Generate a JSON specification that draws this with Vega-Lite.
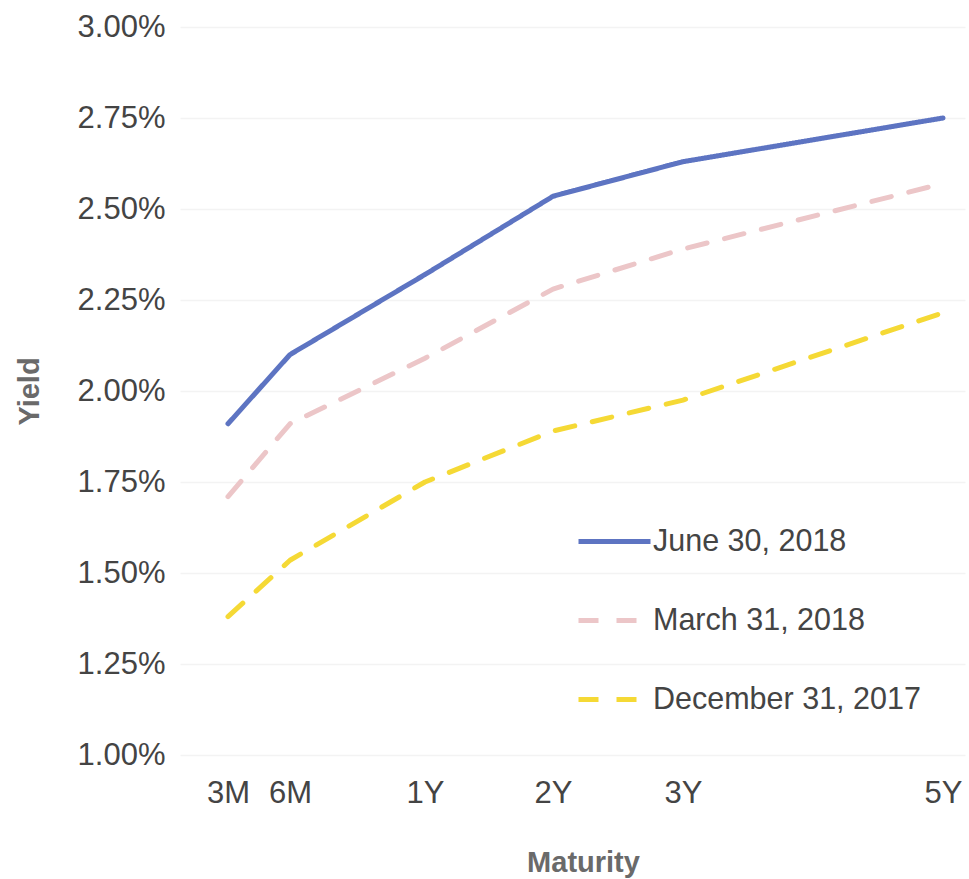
{
  "$schema": "https://vega.github.io/schema/vega-lite/v6.json",
  "autosize": "none",
  "padding": {"left": 180, "top": 27, "right": 4, "bottom": 124},
  "width": 785,
  "height": 728,
  "background": "white",
  "config": {
    "view": {"stroke": null},
    "font": "Liberation Sans"
  },
  "data": {
    "values": [
      {"series": "June 30, 2018", "maturity": "3M", "years": 0.25, "yield": 1.91},
      {"series": "June 30, 2018", "maturity": "6M", "years": 0.5, "yield": 2.1},
      {"series": "June 30, 2018", "maturity": "1Y", "years": 1, "yield": 2.32},
      {"series": "June 30, 2018", "maturity": "2Y", "years": 2, "yield": 2.535},
      {"series": "June 30, 2018", "maturity": "3Y", "years": 3, "yield": 2.63},
      {"series": "June 30, 2018", "maturity": "5Y", "years": 5, "yield": 2.75},
      {"series": "March 31, 2018", "maturity": "3M", "years": 0.25, "yield": 1.71},
      {"series": "March 31, 2018", "maturity": "6M", "years": 0.5, "yield": 1.91},
      {"series": "March 31, 2018", "maturity": "1Y", "years": 1, "yield": 2.09},
      {"series": "March 31, 2018", "maturity": "2Y", "years": 2, "yield": 2.28},
      {"series": "March 31, 2018", "maturity": "3Y", "years": 3, "yield": 2.39},
      {"series": "March 31, 2018", "maturity": "5Y", "years": 5, "yield": 2.57},
      {"series": "December 31, 2017", "maturity": "3M", "years": 0.25, "yield": 1.38},
      {"series": "December 31, 2017", "maturity": "6M", "years": 0.5, "yield": 1.535},
      {"series": "December 31, 2017", "maturity": "1Y", "years": 1, "yield": 1.75},
      {"series": "December 31, 2017", "maturity": "2Y", "years": 2, "yield": 1.89},
      {"series": "December 31, 2017", "maturity": "3Y", "years": 3, "yield": 1.975},
      {"series": "December 31, 2017", "maturity": "5Y", "years": 5, "yield": 2.215}
    ]
  },
  "mark": {"type": "line", "strokeWidth": 5, "strokeCap": "round", "strokeJoin": "round"},
  "encoding": {
    "x": {
      "field": "years",
      "type": "quantitative",
      "scale": {"domain": [0, 0.25, 0.5, 1, 2, 3, 5, 5.2], "range": [0, 48, 110, 245, 373, 503, 763, 785]},
      "axis": {
        "values": [0.25, 0.5, 1, 2, 3, 5],
        "labelExpr": "datum.value == 0.25 ? '3M' : datum.value == 0.5 ? '6M' : datum.value == 1 ? '1Y' : datum.value == 2 ? '2Y' : datum.value == 3 ? '3Y' : '5Y'",
        "grid": false,
        "domain": false,
        "ticks": false,
        "labelFontSize": 31,
        "labelColor": "#444444",
        "labelPadding": 23,
        "title": "Maturity",
        "titleFontSize": 29,
        "titleFontWeight": "bold",
        "titleColor": "#6a6a6a",
        "titlePadding": 40,
        "titleX": 403
      }
    },
    "y": {
      "field": "yield",
      "type": "quantitative",
      "scale": {"domain": [1, 3], "nice": false, "zero": false},
      "axis": {
        "values": [1, 1.25, 1.5, 1.75, 2, 2.25, 2.5, 2.75, 3],
        "labelExpr": "format(datum.value, '.2f') + '%'",
        "grid": true,
        "gridColor": "#f3f3f3",
        "gridWidth": 1.5,
        "domain": false,
        "ticks": false,
        "labelFontSize": 31,
        "labelColor": "#444444",
        "labelPadding": 15,
        "title": "Yield",
        "titleFontSize": 29,
        "titleFontWeight": "bold",
        "titleColor": "#6a6a6a",
        "titlePadding": 33
      }
    },
    "color": {
      "field": "series",
      "type": "nominal",
      "sort": ["June 30, 2018", "March 31, 2018", "December 31, 2017"],
      "scale": {
        "domain": ["June 30, 2018", "March 31, 2018", "December 31, 2017"],
        "range": ["#5d74c2", "#ecc6c8", "#f5d935"]
      },
      "legend": {
        "orient": "none",
        "legendX": 396,
        "legendY": 476,
        "title": null,
        "symbolType": "stroke",
        "symbolSize": 5184,
        "symbolStrokeWidth": 5,
        "labelFontSize": 30.5,
        "labelColor": "#444444",
        "labelOffset": 0,
        "rowPadding": 25,
        "labelLimit": 400
      }
    },
    "strokeDash": {
      "field": "series",
      "type": "nominal",
      "sort": ["June 30, 2018", "March 31, 2018", "December 31, 2017"],
      "scale": {
        "domain": ["June 30, 2018", "March 31, 2018", "December 31, 2017"],
        "range": [[1, 0], [20, 18], [20, 18]]
      },
      "legend": null
    }
  }
}
